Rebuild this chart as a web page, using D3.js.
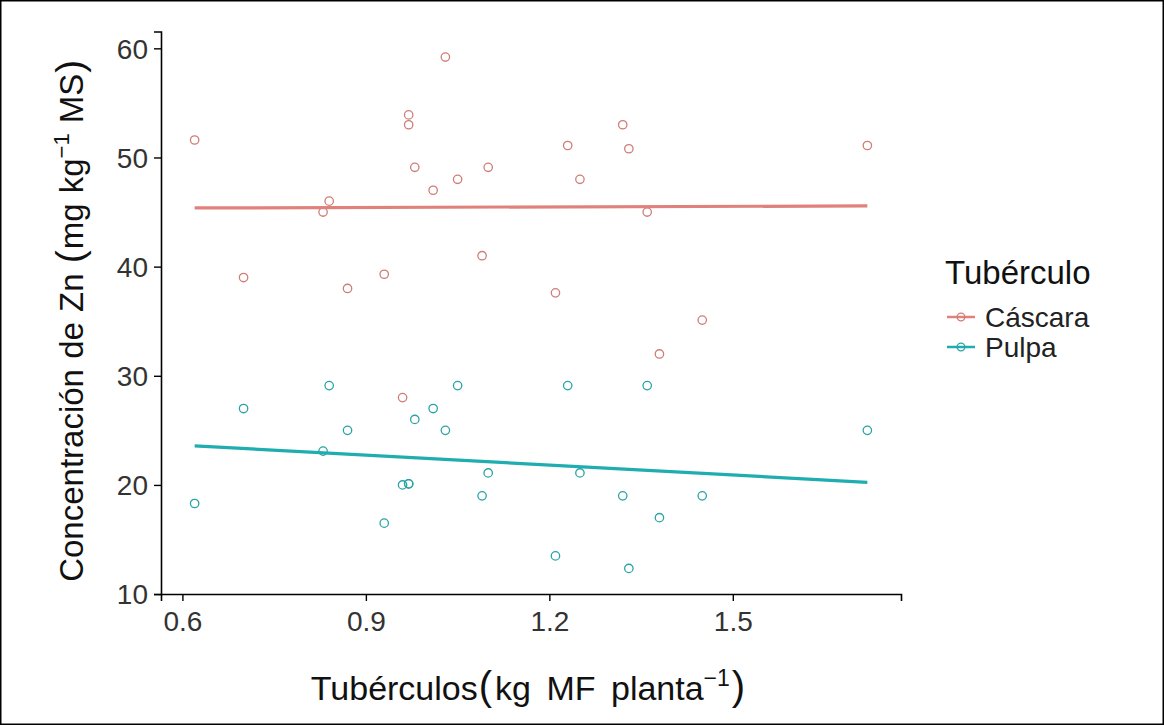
<!DOCTYPE html>
<html>
<head>
<meta charset="utf-8">
<script src="https://cdn.jsdelivr.net/npm/d3@7"></script>
<style>
  html, body { margin: 0; padding: 0; background: #ffffff; }
  svg { display: block; font-family: "Liberation Sans", Arial, sans-serif; }
</style>
</head>
<body>
<svg id="chart" width="1164" height="725"></svg>
<script>
// Tuber yield per plant (kg MF) — shared by both tissue fractions
const tuberYield = [0.62, 0.70, 0.83, 0.84, 0.87, 0.93, 0.96, 0.97, 0.97, 0.98, 1.01, 1.03,
                    1.05, 1.09, 1.10, 1.21, 1.23, 1.25, 1.32, 1.33, 1.36, 1.38, 1.45, 1.72];
// Zn concentration in the peel (mg kg-1 MS)
const znCascara = [51.6, 39.0, 45.0, 46.0, 38.0, 39.3, 28.0, 53.9, 53.0, 49.1, 47.0, 59.2,
                   48.0, 41.0, 49.1, 37.6, 51.1, 48.0, 53.0, 50.8, 45.0, 32.0, 35.1, 51.1];
// Zn concentration in the flesh (mg kg-1 MS)
const znPulpa = [18.3, 27.0, 23.1, 29.1, 25.0, 16.5, 20.0, 20.1, 20.1, 26.0, 27.0, 25.0,
                 29.1, 19.0, 21.1, 13.5, 29.1, 21.1, 19.0, 12.35, 29.1, 17.0, 19.0, 25.0];
const groupNames = ["Cáscara", "Pulpa"];
const xTicks = [0.6, 0.9, 1.2, 1.5];
const yTicks = [10, 20, 30, 40, 50, 60];

const lineColors = { "Cáscara": "#e0827b", "Pulpa": "#1fadb0" };
const pointColors = { "Cáscara": "#cf7d76", "Pulpa": "#2aa3a6" };

const groups = [
  { name: groupNames[0], values: znCascara },
  { name: groupNames[1], values: znPulpa }
].map(g => ({
  name: g.name,
  points: tuberYield.map((x, i) => ({ x, y: g.values[i] }))
}));

const svg = d3.select("#chart");
const W = 1164, H = 725;

// outer frame
svg.append("rect").attr("x", 0.75).attr("y", 0.75).attr("width", W - 1.5).attr("height", H - 1.5)
  .attr("fill", "#fff").attr("stroke", "#000").attr("stroke-width", 1.5);

const panel = { left: 161, right: 901, top: 31.5, bottom: 594 };

// ggplot-style 5% expansion of the data range
function expand(ext) { const r = ext[1] - ext[0]; return [ext[0] - 0.05 * r, ext[1] + 0.05 * r]; }
const allY = znCascara.concat(znPulpa);
const x = d3.scaleLinear().domain(expand(d3.extent(tuberYield))).range([panel.left, panel.right]);
const y = d3.scaleLinear().domain(expand(d3.extent(allY))).range([panel.bottom, panel.top]);

// axes
const xAxis = svg.append("g").attr("transform", `translate(0,${panel.bottom})`)
  .call(d3.axisBottom(x).tickValues(xTicks).tickFormat(d3.format(".1f")).tickSizeOuter(0).tickSize(7).tickPadding(10));
const yAxis = svg.append("g").attr("transform", `translate(${panel.left},0)`)
  .call(d3.axisLeft(y).tickValues(yTicks).tickFormat(d3.format("d")).tickSizeOuter(0).tickSize(7).tickPadding(6));
[xAxis, yAxis].forEach(a => {
  a.select(".domain").attr("stroke", "#000").attr("stroke-width", 1.6);
  a.selectAll(".tick line").attr("stroke", "#000").attr("stroke-width", 1.4);
  a.selectAll(".tick text").attr("fill", "#333").style("font-size", "28px").style("font-family", "Liberation Sans, Arial, sans-serif");
});
yAxis.selectAll(".tick text").attr("dy", "0.35em");

// least-squares fit per group, drawn over the observed x range
function fit(points) {
  const mx = d3.mean(points, d => d.x), my = d3.mean(points, d => d.y);
  const sxy = d3.sum(points, d => (d.x - mx) * (d.y - my));
  const sxx = d3.sum(points, d => (d.x - mx) ** 2);
  const b = sxy / sxx, a = my - b * mx;
  const [x0, x1] = d3.extent(points, d => d.x);
  return [{ x: x0, y: a + b * x0 }, { x: x1, y: a + b * x1 }];
}
const line = d3.line().x(d => x(d.x)).y(d => y(d.y));

groups.forEach(g => {
  svg.append("g").selectAll("circle").data(g.points).join("circle")
    .attr("cx", d => x(d.x)).attr("cy", d => y(d.y)).attr("r", 4.2)
    .attr("fill", "none").attr("stroke", pointColors[g.name]).attr("stroke-width", 1.3);
});
groups.forEach(g => {
  svg.append("path").datum(fit(g.points)).attr("d", line)
    .attr("fill", "none").attr("stroke", lineColors[g.name]).attr("stroke-width", 3.2);
});

// axis titles (math-style spacing and enlarged brackets)
const xt = svg.append("text").attr("x", 528).attr("y", 700)
  .attr("text-anchor", "middle").attr("fill", "#111").style("font-size", "34px").style("word-spacing", "6px");
xt.append("tspan").text("Tubérculos");
xt.append("tspan").text("(").style("font-size", "40px").attr("dx", 1);
xt.append("tspan").text("kg MF planta").attr("dx", 3);
xt.append("tspan").text("−1").style("font-size", "23px").attr("dy", -14);
xt.append("tspan").text(")").style("font-size", "40px").attr("dy", 14).attr("dx", 2);

const yt = svg.append("text").attr("transform", `translate(83,${(panel.top + panel.bottom) / 2 + 8}) rotate(-90)`)
  .attr("text-anchor", "middle").attr("fill", "#111").style("font-size", "33px").style("word-spacing", "1px");
yt.append("tspan").text("Concentración de Zn ");
yt.append("tspan").text("(").style("font-size", "39px");
yt.append("tspan").text("mg kg").attr("dx", 1);
yt.append("tspan").text("−1").style("font-size", "22px").attr("dy", -14);
yt.append("tspan").text(" MS").attr("dy", 14);
yt.append("tspan").text(")").style("font-size", "39px").attr("dx", 1);

// legend
const lg = svg.append("g").attr("transform", "translate(945,0)");
lg.append("text").attr("x", 0).attr("y", 284).attr("fill", "#111").style("font-size", "33px").text("Tubérculo");
groupNames.forEach((name, i) => {
  const cy = 317 + i * 30;
  lg.append("line").attr("x1", 2).attr("x2", 30).attr("y1", cy).attr("y2", cy)
    .attr("stroke", lineColors[name]).attr("stroke-width", 2.5);
  lg.append("circle").attr("cx", 16).attr("cy", cy).attr("r", 3.8)
    .attr("fill", "none").attr("stroke", pointColors[name]).attr("stroke-width", 1.3);
  lg.append("text").attr("x", 40).attr("y", cy).attr("dy", "0.35em").attr("fill", "#222")
    .style("font-size", "28px").text(name);
});
</script>
</body>
</html>
